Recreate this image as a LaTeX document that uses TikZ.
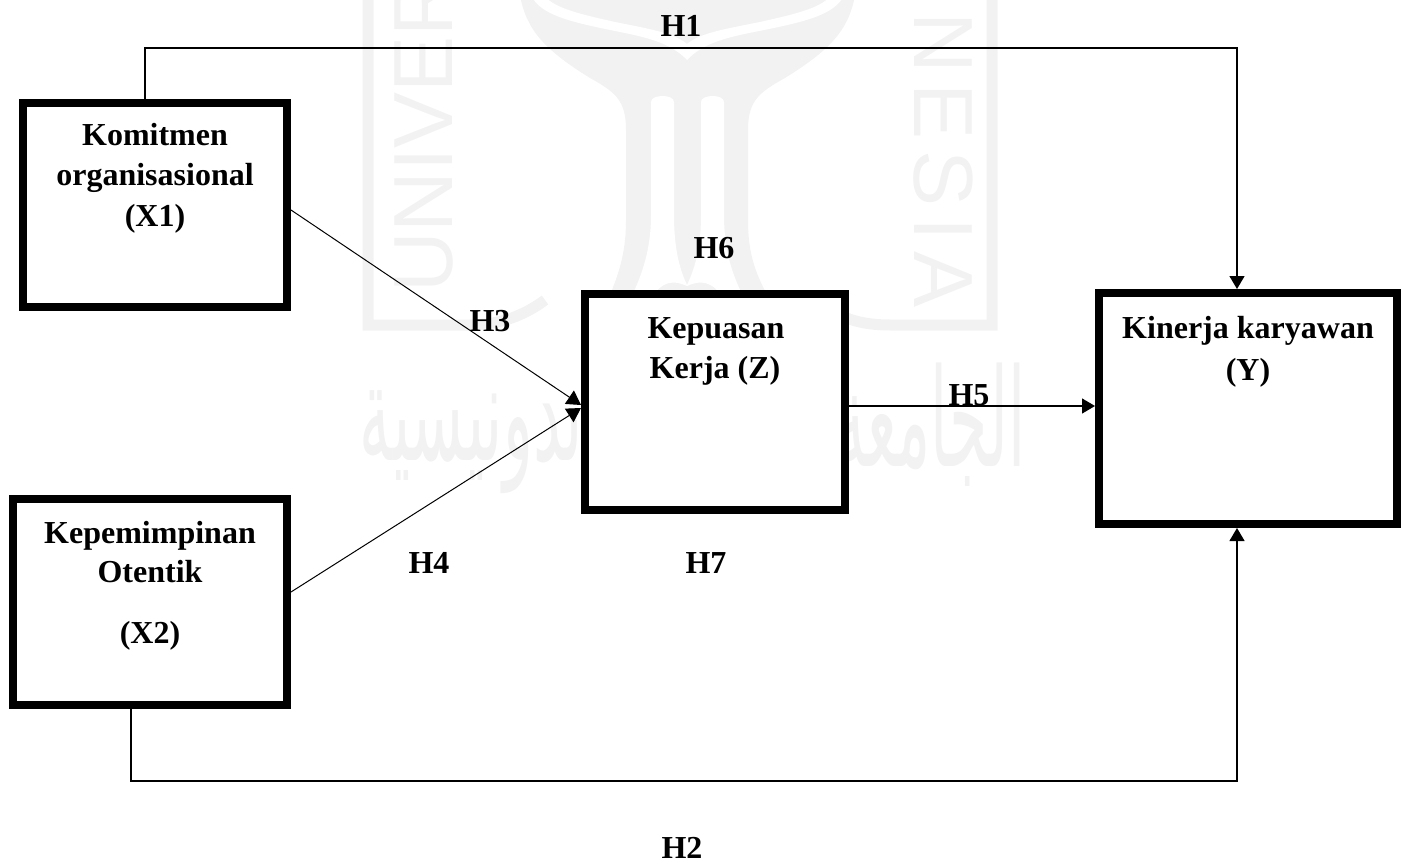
\documentclass[tikz,border=0pt]{standalone}
\usepackage{fontspec}
\setmainfont{Liberation Serif}
\newfontfamily\wmsans{Liberation Sans}
\newfontfamily\wmsansw[LetterSpace=13]{Liberation Sans}
\newfontfamily\arabicfont[Script=Arabic]{DejaVu Sans}
\TeXXeTstate=1
\usetikzlibrary{arrows.meta}
\definecolor{wm}{HTML}{F2F2F2}
\tikzset{
 vbox/.style={draw=black,line width=8pt,fill=white,inner sep=0pt},
 lbl/.style={font=\fontsize{32pt}{38pt}\selectfont\bfseries,inner sep=0pt,anchor=base},
 conn/.style={line width=1.3pt},
 diag/.style={line width=1pt,-{Triangle[length=14pt,width=16pt]}},
 arr/.style={conn,-{Triangle[length=13pt,width=15pt]}},
 wmtext/.style={text=wm,inner sep=0pt,font=\fontsize{84pt}{84pt}\selectfont\wmsans},
 wmtextw/.style={text=wm,inner sep=0pt,font=\fontsize{84pt}{84pt}\selectfont\wmsansw},
 wmarab/.style={text=wm,inner sep=0pt,yscale=2.2,font=\fontsize{62pt}{70pt}\selectfont\arabicfont},
 wmline/.style={draw=wm,line width=11pt,fill=none}
}
\begin{document}
\begin{tikzpicture}[x=1pt,y=-1pt]
\useasboundingbox (0,0) rectangle (1405,859);
% faint watermark
\begin{scope}
\clip (0,0) rectangle (1405,859);
\node[wmtext,rotate=90,anchor=base west] (wmleft) at (452,293) {UNIVER};
\node[wmtextw,rotate=-90,anchor=base east] (wmright) at (914,308) {NESIA};
\draw[wmline] (368,-10) -- (368,325) -- (470,325) .. controls (500,325) and (525,315) .. (545,300);
\draw[wmline] (992,-10) -- (992,325) -- (890,325) .. controls (860,325) and (840,318) .. (825,305);
\fill[wm] (520,-5) .. controls (526,30) and (545,50) .. (590,78)
  .. controls (615,92) and (626,100) .. (626,130)
  -- (626,220) .. controls (626,255) and (618,275) .. (608,300)
  -- (770,300) .. controls (756,275) and (748,255) .. (748,220)
  -- (748,130) .. controls (748,100) and (760,92) .. (785,78)
  .. controls (830,50) and (849,30) .. (855,-5) -- cycle;
\fill[white] (651,102) .. controls (651,94) and (674,94) .. (674,102) -- (674,215)
  .. controls (674,250) and (680,270) .. (687,285)
  .. controls (694,270) and (701,250) .. (701,215)
  -- (701,102) .. controls (701,94) and (724,94) .. (724,102) -- (724,215)
  .. controls (724,250) and (732,275) .. (745,300) -- (725,300)
  .. controls (712,280) and (700,280) .. (687,286)
  .. controls (674,280) and (662,280) .. (650,300) -- (630,300)
  .. controls (642,275) and (651,250) .. (651,215) -- cycle;
\fill[white] (531,-5) .. controls (540,15) and (570,22) .. (620,32)
  .. controls (650,38) and (672,44) .. (687,60)
  .. controls (702,44) and (724,38) .. (754,32)
  .. controls (805,22) and (835,15) .. (844,-5)
  -- (832,-5) .. controls (820,8) and (800,13) .. (760,22)
  .. controls (725,29) and (700,33) .. (687,44)
  .. controls (674,33) and (650,29) .. (615,22)
  .. controls (575,13) and (555,8) .. (543,-5) -- cycle;
\node[wmarab] (wmar1) at (480,425) {\beginR إندونيسية\endR};
\node[wmarab] (wmar2) at (930,425) {\beginR الجامعة\endR};
\end{scope}
% boxes
\node[vbox,minimum width=264pt,minimum height=204pt] (x1) at (155,205) {};
\node[vbox,minimum width=274pt,minimum height=206pt] (x2) at (150,602) {};
\node[vbox,minimum width=260pt,minimum height=216pt] (z) at (715,402) {};
\node[vbox,minimum width=298pt,minimum height=231pt] (y) at (1248,408.5) {};
% box labels
\node[lbl] (t1a) at (155,145) {Komitmen};
\node[lbl] (t1b) at (155,185) {organisasional};
\node[lbl] (t1c) at (155,226) {(X1)};
\node[lbl] (t2a) at (150,543) {Kepemimpinan};
\node[lbl] (t2b) at (150,582) {Otentik};
\node[lbl] (t2c) at (150,643) {(X2)};
\node[lbl] (t3a) at (716,338) {Kepuasan};
\node[lbl] (t3b) at (715,378) {Kerja (Z)};
\node[lbl] (t4a) at (1248,338) {Kinerja karyawan};
\node[lbl] (t4b) at (1248,380) {(Y)};
% connectors
\coordinate (c1) at (1237,48);
\coordinate (c2) at (1237,781);
\draw[arr] ([xshift=-10pt]x1.north) |- (c1) -- ([xshift=-11pt]y.north);
\draw[arr] ([xshift=-19pt]x2.south) |- (c2) -- ([xshift=-11pt]y.south);
\draw[diag] ([yshift=-5pt]x1.east) -- ([yshift=-3pt]z.west);
\draw[diag] ([yshift=10pt]x2.east) -- ([yshift=-6pt]z.west);
\draw[arr] ([yshift=-4pt]z.east) -- ([yshift=2.5pt]y.west);
% hypothesis labels
\node[lbl] (h1) at (681,37) {H1};
\node[lbl] (h2) at (682,858) {H2};
\node[lbl] (h3) at (490,331) {H3};
\node[lbl] (h4) at (429,573) {H4};
\node[lbl] (h5) at (969,405) {H5};
\node[lbl] (h6) at (714,258) {H6};
\node[lbl] (h7) at (706,573) {H7};
\end{tikzpicture}
\end{document}
